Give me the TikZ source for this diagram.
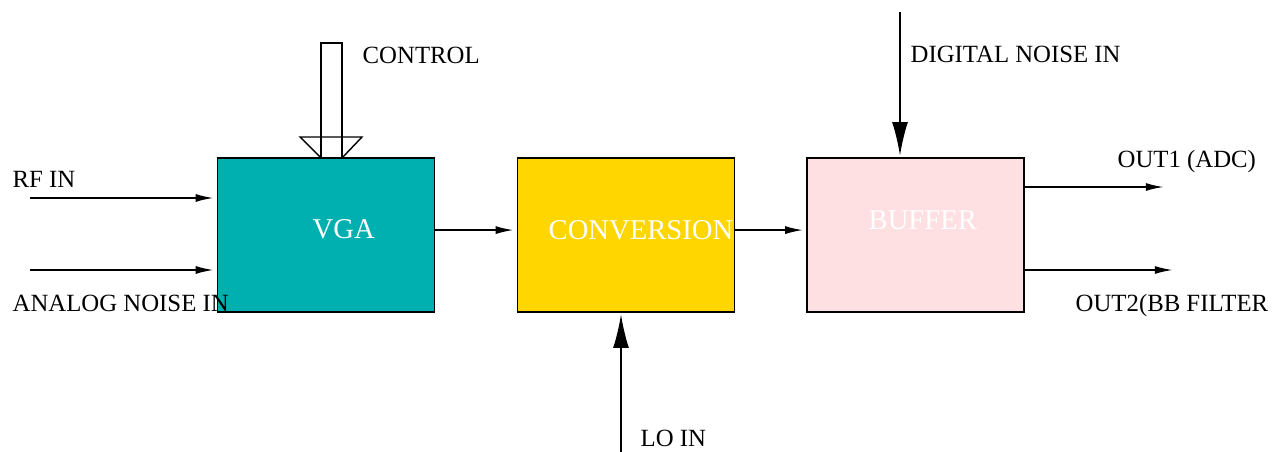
\documentclass[tikz,border=0pt]{standalone}
\usepackage{fontspec}
\setmainfont{Liberation Serif}
\usetikzlibrary{arrows.meta,positioning,calc}
\definecolor{vgafill}{RGB}{0,176,176}
\definecolor{convfill}{RGB}{255,214,0}
\definecolor{buffill}{RGB}{255,224,226}

\begin{document}
\begin{tikzpicture}[x=0.02cm,y=-0.02cm,line width=0.8pt,
    block/.style={draw,minimum width=4.34cm,minimum height=3.08cm,inner sep=0pt},
    txt/.style={font=\fontsize{14.1}{16}\selectfont,inner sep=0pt,anchor=base west},
    blocktxt/.style={txt,white,font=\fontsize{16.3}{18}\selectfont},
    sig/.style={-{Latex[length=10pt,width=4.5pt]},shorten >=2pt},
    bigsig/.style={-{Latex[length=19pt,width=9pt]},shorten >=1pt}]
  \useasboundingbox (0,0) rectangle (1282,452);

  % the three blocks
  \node[block,fill=vgafill] (vga) at (326,235) {};
  \node[block,fill=convfill] (conv) at (626,235) {};
  \node[block,fill=buffill] (buf) at (915.5,235) {};
  \node[blocktxt] (vgatxt) at (312,239) {VGA};
  \node[blocktxt] (convtxt) at (548,240) {CONVERSION};
  \node[blocktxt] (buftxt) at (868,230) {BUFFER};

  % inputs
  \coordinate (rf) at (30,198);
  \coordinate (an) at (30,270);
  \draw[sig] (rf) -- (rf -| vga.west);
  \draw[sig] (an) -- (an -| vga.west);
  \node[txt] (rflbl) at (12,188) {RF IN};
  \node[txt] (anlbl) at (12,312) {ANALOG NOISE IN};

  % control bus, hollow arrow
  \coordinate (ctl) at (331.5,158);
  \draw (ctl) ++(-10.5,0) -- ++(0,-115) -- ++(21,0) -- ++(0,115);
  \draw (ctl) ++(-10.5,0) -- ++(-21,-21) -- ++(62,0) -- ++(-20,21);
  \node[txt] (ctllbl) at (362,64) {CONTROL};

  % chain
  \draw[sig] ([yshift=2.8pt]vga.east) -- ([yshift=2.8pt]conv.west);
  \draw[sig] ([yshift=2.8pt]conv.east) -- ([yshift=2.8pt]buf.west);

  \coordinate (lo) at (621,452);
  \draw[bigsig] (lo) -- (lo |- conv.south);
  \node[txt] (lolbl) at (640,447) {LO IN};

  \coordinate (dig) at (900,12);
  \draw[bigsig] (dig) -- (dig |- buf.north);
  \node[txt] (diglbl) at (910,63) {DIGITAL NOISE IN};

  % outputs
  \coordinate (o1) at (1167,187);
  \coordinate (o2) at (1176,270);
  \draw[sig] (buf.east |- o1) -- (o1);
  \draw[sig] (buf.east |- o2) -- (o2);
  \node[txt] (o1lbl) at (1117,168) {OUT1 (ADC)};
  \node[txt] (o2lbl) at (1075,312) {OUT2(BB FILTER};
\end{tikzpicture}
\end{document}
